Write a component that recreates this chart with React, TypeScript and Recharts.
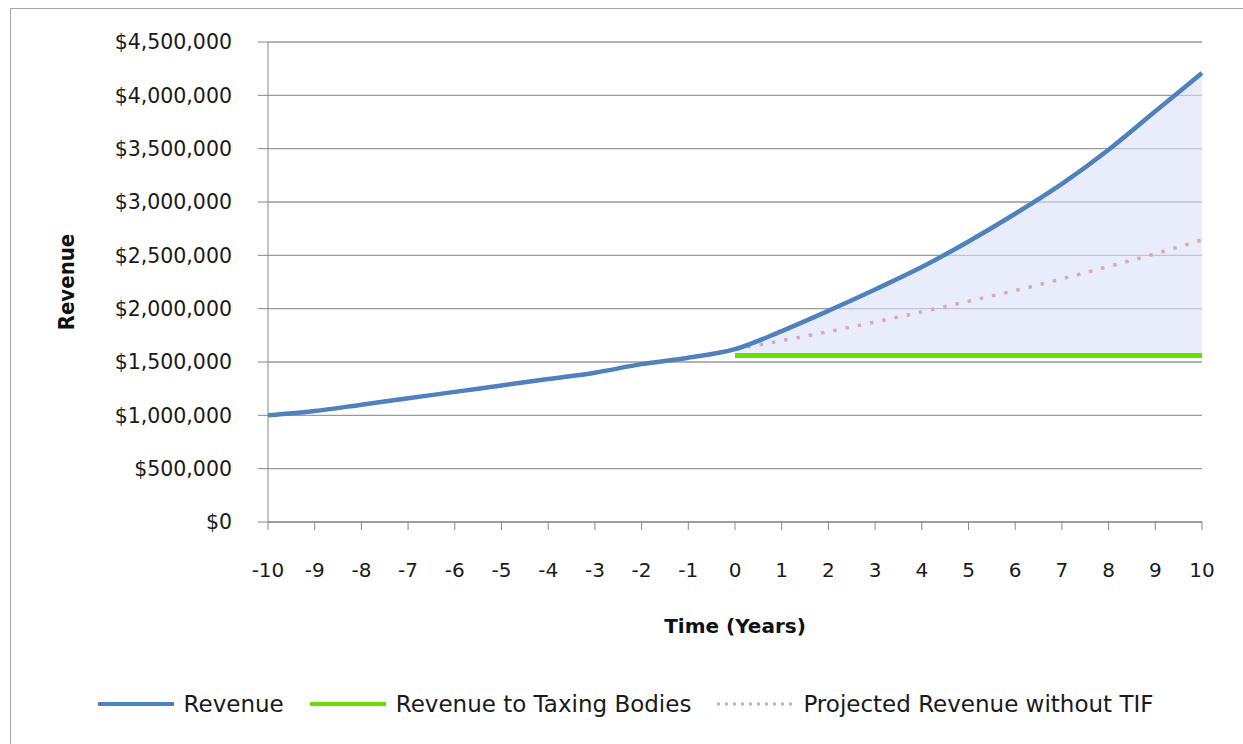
import React from "react";
import {
  ComposedChart,
  Line,
  Area,
  XAxis,
  YAxis,
  CartesianGrid,
  Legend,
} from "recharts";

// values
const years = [-10, -9, -8, -7, -6, -5, -4, -3, -2, -1, 0, 1, 2, 3, 4, 5, 6, 7, 8, 9, 10];
const revenue = [
  1000000, 1040000, 1100000, 1160000, 1220000, 1280000, 1340000, 1400000, 1480000, 1540000,
  1620000, 1790000, 1980000, 2180000, 2390000, 2630000, 2890000, 3170000, 3490000, 3850000, 4210000,
];
const taxingBodies = [
  null, null, null, null, null, null, null, null, null, null,
  1560000, 1560000, 1560000, 1560000, 1560000, 1560000, 1560000, 1560000, 1560000, 1560000, 1560000,
];
const projected = [
  null, null, null, null, null, null, null, null, null, null,
  1620000, 1700000, 1785000, 1875000, 1970000, 2070000, 2170000, 2280000, 2395000, 2515000, 2645000,
];
const yTicks = [0, 500000, 1000000, 1500000, 2000000, 2500000, 3000000, 3500000, 4000000, 4500000];
const legendOrder = ["Revenue", "Revenue to Taxing Bodies", "Projected Revenue without TIF"];

const BLUE = "#4f81bd";
const GREEN = "#66e000";
const PINK = "#d9a9b5";
const GRID = "#9a9a9a";
const FONT = "'DejaVu Sans', Verdana, sans-serif";

const data = years.map((year, i) => ({
  year,
  revenue: revenue[i],
  taxing: taxingBodies[i],
  projected: projected[i],
  band: taxingBodies[i] != null ? [taxingBodies[i], revenue[i]] : null,
}));

const swatchStyle: Record<string, { color: string; dash?: string; width: number }> = {
  Revenue: { color: BLUE, width: 4 },
  "Revenue to Taxing Bodies": { color: GREEN, width: 4 },
  "Projected Revenue without TIF": { color: PINK, dash: "3 5", width: 3 },
};

const LegendContent = ({ payload }: any) => {
  const items = (payload || [])
    .filter((p: any) => legendOrder.includes(p.value))
    .sort((a: any, b: any) => legendOrder.indexOf(a.value) - legendOrder.indexOf(b.value));
  return (
    <div
      style={{
        height: 40,
        display: "flex",
        justifyContent: "center",
        alignItems: "center",
        paddingLeft: 8,
        fontFamily: FONT,
        fontSize: 23,
        color: "#1a1a1a",
        whiteSpace: "nowrap",
      }}
    >
      {items.map((entry: any, i: number) => {
        const s = swatchStyle[entry.value];
        return (
          <div
            key={entry.value}
            style={{ display: "flex", alignItems: "center", marginRight: i < items.length - 1 ? 26 : 0 }}
          >
            <svg width={76} height={10} style={{ marginRight: 10 }}>
              <line x1={0} y1={5} x2={76} y2={5} stroke={s.color} strokeWidth={s.width} strokeDasharray={s.dash} />
            </svg>
            <span>{entry.value}</span>
          </div>
        );
      })}
    </div>
  );
};

const fmtMoney = (v: number) => "$" + v.toLocaleString("en-US");

export default function App() {
  return (
    <div style={{ position: "absolute", left: 0, top: 0, width: 1243, height: 744, background: "#fff", overflow: "hidden" }}>
      <div
        style={{
          position: "absolute",
          left: 10,
          top: 8,
          width: 1250,
          height: 760,
          border: "1.5px solid #a6a6a6",
          boxSizing: "border-box",
        }}
      />
      <div style={{ position: "absolute", left: 0, top: 0 }}>
        <ComposedChart width={1243} height={744} data={data} margin={{ top: 42, right: 41, bottom: 20, left: 0 }}>
          <CartesianGrid vertical={false} stroke={GRID} strokeWidth={1.3} />
          <XAxis
            dataKey="year"
            type="number"
            domain={[-10, 10]}
            ticks={years}
            interval={0}
            height={162}
            stroke="#878787"
            tickSize={8}
            tickMargin={33}
            tick={{ fill: "#1a1a1a", fontSize: 20, fontFamily: FONT }}
            label={{
              content: ({ viewBox }: any) => (
                <text
                  x={viewBox.x + viewBox.width / 2}
                  y={viewBox.y + 104}
                  textAnchor="middle"
                  dominantBaseline="central"
                  fontFamily={FONT}
                  fontWeight="bold"
                  fontSize={20}
                  fill="#111"
                >
                  Time (Years)
                </text>
              ),
            }}
          />
          <YAxis
            type="number"
            domain={[0, 4500000]}
            ticks={yTicks}
            interval={0}
            width={268}
            stroke="#878787"
            tickSize={10}
            tickMargin={26}
            tickFormatter={fmtMoney}
            tick={{ fill: "#1a1a1a", fontSize: 20.5, fontFamily: FONT }}
            label={{
              content: ({ viewBox }: any) => {
                const cx = viewBox.x + 66;
                const cy = viewBox.y + viewBox.height / 2;
                return (
                  <text
                    x={cx}
                    y={cy}
                    transform={`rotate(-90 ${cx} ${cy})`}
                    textAnchor="middle"
                    dominantBaseline="central"
                    fontFamily="'DejaVu Sans Condensed', 'DejaVu Sans', sans-serif"
                    fontWeight="bold"
                    fontSize={22}
                    fill="#111"
                  >
                    Revenue
                  </text>
                );
              },
            }}
          />
          <Area
            dataKey="band"
            type="monotone"
            stroke="none"
            fill="#d9e0f8"
            fillOpacity={0.6}
            legendType="none"
            isAnimationActive={false}
            connectNulls={false}
          />
          <Line
            dataKey="projected"
            name="Projected Revenue without TIF"
            type="monotone"
            stroke={PINK}
            strokeWidth={3.5}
            strokeDasharray="3.5 9"
            dot={false}
            activeDot={false}
            isAnimationActive={false}
          />
          <Line
            dataKey="taxing"
            name="Revenue to Taxing Bodies"
            type="linear"
            stroke={GREEN}
            strokeWidth={5}
            dot={false}
            activeDot={false}
            isAnimationActive={false}
          />
          <Line
            dataKey="revenue"
            name="Revenue"
            type="monotone"
            stroke={BLUE}
            strokeWidth={4.5}
            dot={false}
            activeDot={false}
            isAnimationActive={false}
          />
          <Legend content={<LegendContent />} wrapperStyle={{ top: 684, left: 0, width: 1243 }} />
        </ComposedChart>
      </div>
    </div>
  );
}
